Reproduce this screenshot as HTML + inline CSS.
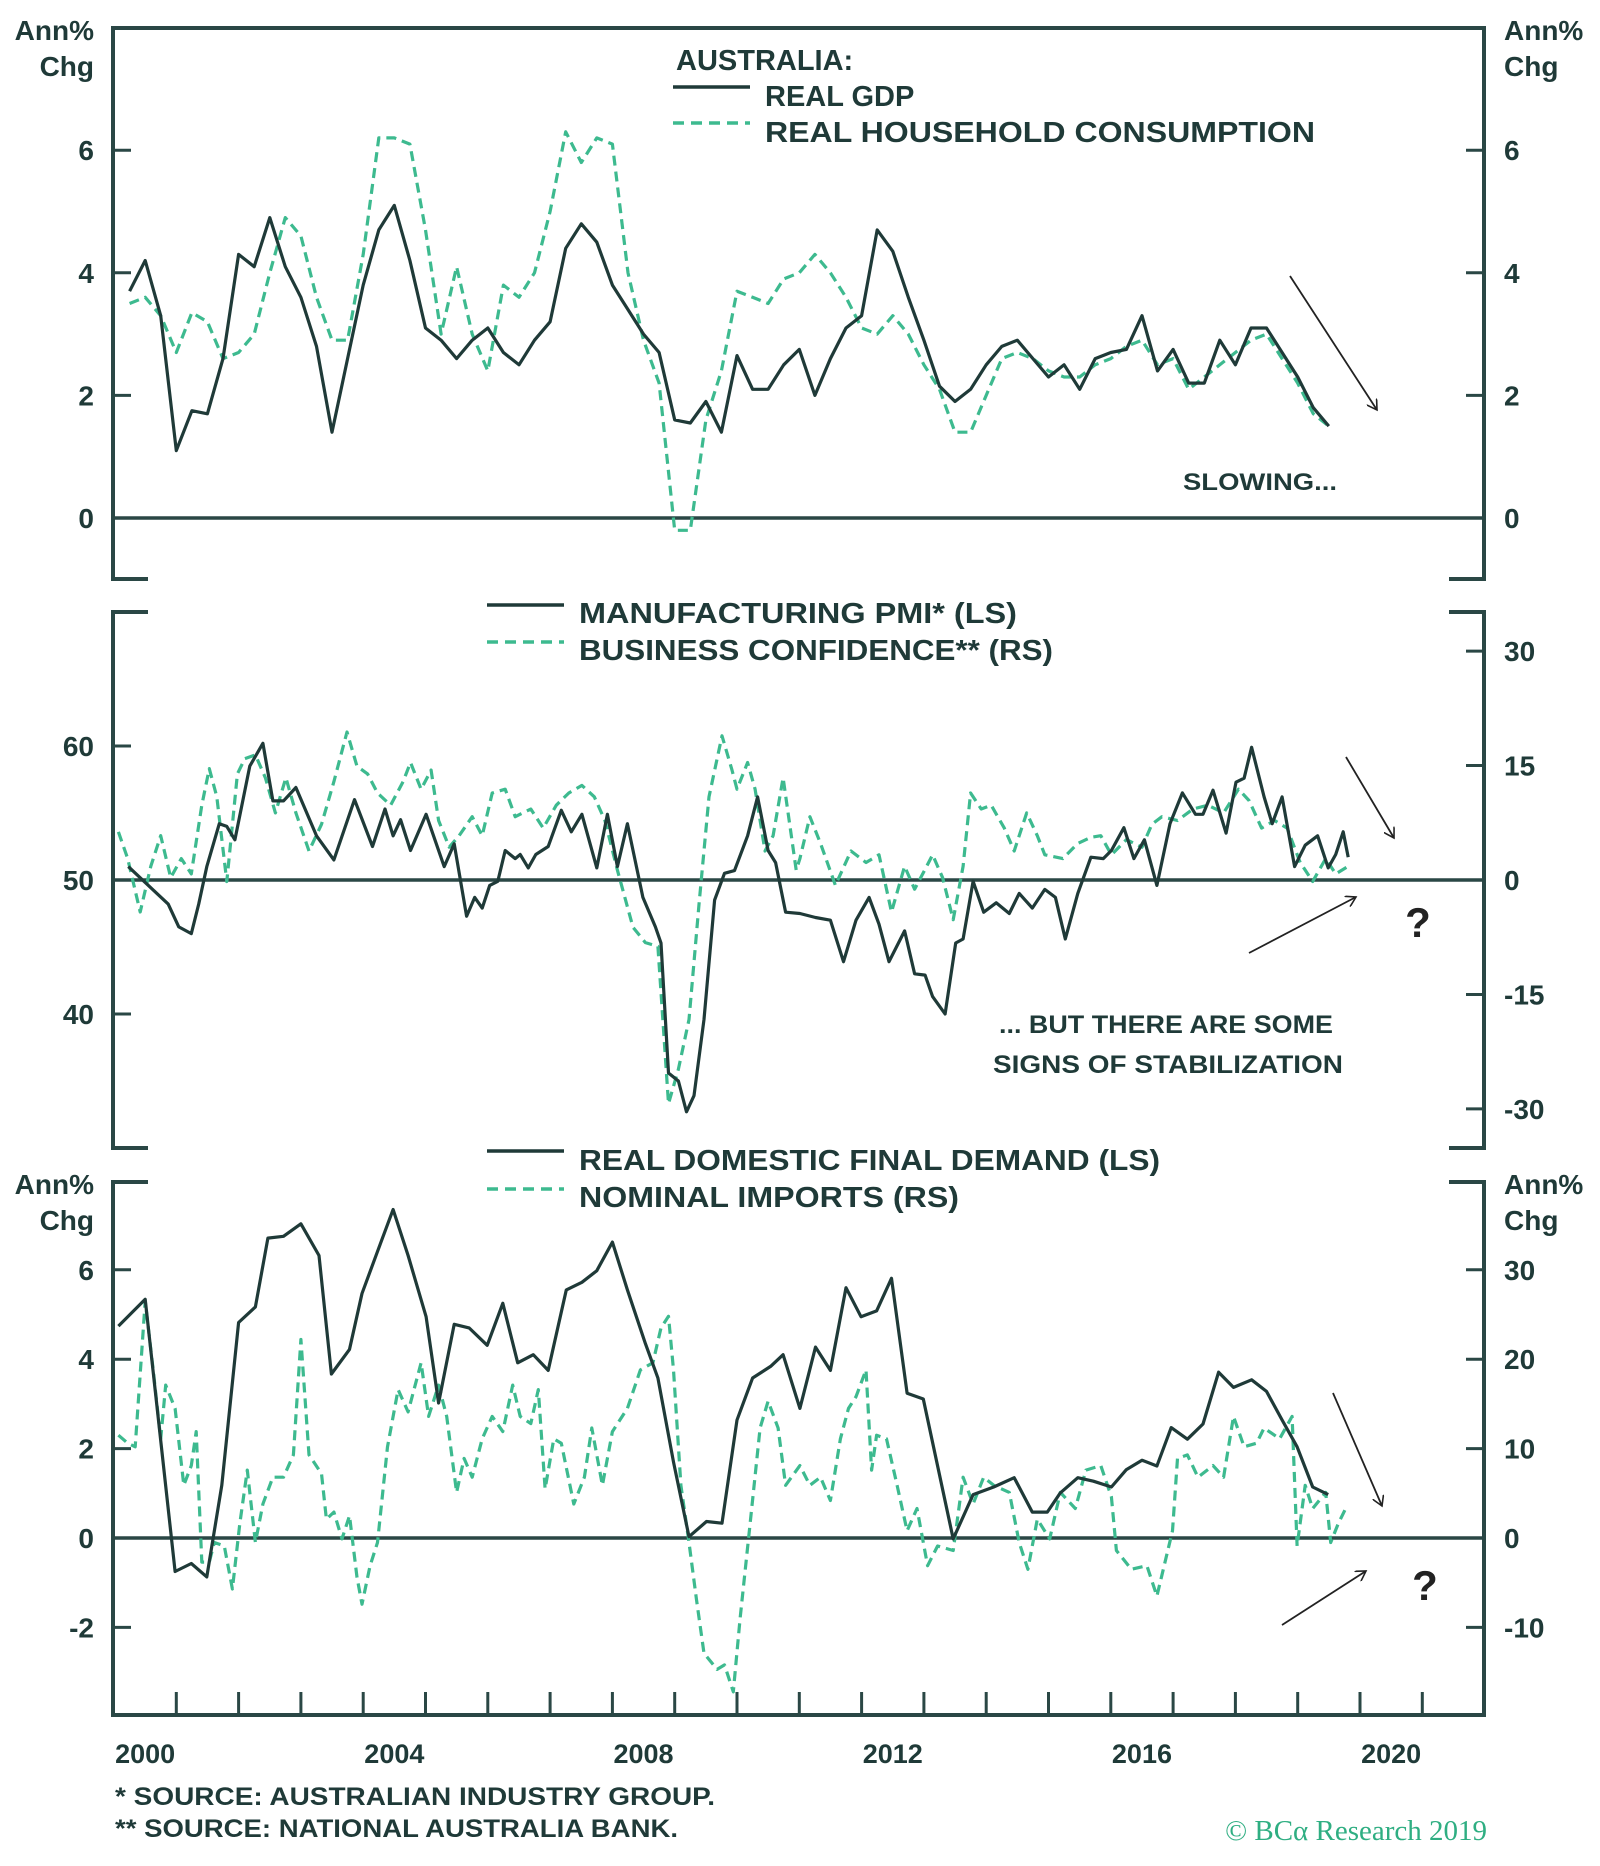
<!DOCTYPE html>
<html><head><meta charset="utf-8"><style>
html,body{margin:0;padding:0;background:#fff;}
svg{display:block;font-family:"Liberation Sans",sans-serif;}
.t{fill:#1f3a38;font-weight:bold;}
</style></head><body>
<svg id="chart" width="1600" height="1866" viewBox="0 0 1600 1866" xmlns="http://www.w3.org/2000/svg">
<g id="frame" stroke="#2a4745" stroke-width="4" fill="none">
 <line x1="113" y1="28" x2="1484" y2="28"/>
 <line x1="113" y1="26" x2="113" y2="581"/><line x1="1484" y1="26" x2="1484" y2="581"/>
 <line x1="113" y1="579" x2="148" y2="579"/><line x1="1449" y1="579" x2="1484" y2="579"/>
 <line x1="113" y1="610" x2="113" y2="1150"/><line x1="1484" y1="610" x2="1484" y2="1150"/>
 <line x1="113" y1="612" x2="148" y2="612"/><line x1="1449" y1="612" x2="1484" y2="612"/>
 <line x1="113" y1="1148" x2="148" y2="1148"/><line x1="1449" y1="1148" x2="1484" y2="1148"/>
 <line x1="113" y1="1180" x2="113" y2="1717"/><line x1="1484" y1="1180" x2="1484" y2="1717"/>
 <line x1="113" y1="1182" x2="148" y2="1182"/><line x1="1449" y1="1182" x2="1484" y2="1182"/>
 <line x1="111" y1="1715" x2="1486" y2="1715"/>
</g>
<g id="ticks" stroke="#2a4745" stroke-width="3"></g>
<g id="labels"></g>
<g id="series"></g>
<g id="legend">
 <text class="t" x="676" y="70" font-size="29">AUSTRALIA:</text>
 <line x1="673" y1="87" x2="750" y2="87" stroke="#1f3a38" stroke-width="3.5"/>
 <text class="t" x="765" y="106" font-size="29">REAL GDP</text>
 <line x1="673" y1="123" x2="750" y2="123" stroke="#3dba8f" stroke-width="3.5" stroke-dasharray="11,7"/>
 <text class="t" x="765" y="142" font-size="29" textLength="550" lengthAdjust="spacingAndGlyphs">REAL HOUSEHOLD CONSUMPTION</text>
 <line x1="487" y1="605" x2="564" y2="605" stroke="#1f3a38" stroke-width="3.5"/>
 <text class="t" x="579" y="623" font-size="29" textLength="438" lengthAdjust="spacingAndGlyphs">MANUFACTURING PMI* (LS)</text>
 <line x1="487" y1="642" x2="564" y2="642" stroke="#3dba8f" stroke-width="3.5" stroke-dasharray="11,7"/>
 <text class="t" x="579" y="660" font-size="29" textLength="474" lengthAdjust="spacingAndGlyphs">BUSINESS CONFIDENCE** (RS)</text>
 <line x1="487" y1="1151" x2="564" y2="1151" stroke="#1f3a38" stroke-width="3.5"/>
 <text class="t" x="579" y="1170" font-size="29" textLength="581" lengthAdjust="spacingAndGlyphs">REAL DOMESTIC FINAL DEMAND (LS)</text>
 <line x1="487" y1="1189" x2="564" y2="1189" stroke="#3dba8f" stroke-width="3.5" stroke-dasharray="11,7"/>
 <text class="t" x="579" y="1207" font-size="29" textLength="380" lengthAdjust="spacingAndGlyphs">NOMINAL IMPORTS (RS)</text>
</g>
<defs><marker id="ah" markerWidth="12" markerHeight="12" refX="10" refY="6" orient="auto" markerUnits="userSpaceOnUse"><path d="M0,0 L10,6 L0,12" fill="none" stroke="#222" stroke-width="1.6"/></marker></defs>
<g id="annotations" stroke="#222" stroke-width="1.8" fill="none">
 <line x1="1290" y1="276" x2="1377" y2="410" marker-end="url(#ah)"/>
 <line x1="1346" y1="757" x2="1394" y2="838" marker-end="url(#ah)"/>
 <line x1="1249" y1="953" x2="1356" y2="897" marker-end="url(#ah)"/>
 <line x1="1333" y1="1393" x2="1382" y2="1506" marker-end="url(#ah)"/>
 <line x1="1282" y1="1625" x2="1366" y2="1571" marker-end="url(#ah)"/>
</g>
<text class="t" x="1183" y="490" font-size="24" textLength="154" lengthAdjust="spacingAndGlyphs">SLOWING...</text>
<text class="t" x="999" y="1033" font-size="25" textLength="334" lengthAdjust="spacingAndGlyphs">... BUT THERE ARE SOME</text>
<text class="t" x="993" y="1073" font-size="25" textLength="350" lengthAdjust="spacingAndGlyphs">SIGNS OF STABILIZATION</text>
<text x="1418" y="937" font-size="42" font-weight="bold" fill="#222" text-anchor="middle">?</text>
<text x="1425" y="1600" font-size="42" font-weight="bold" fill="#222" text-anchor="middle">?</text>
<text class="t" x="115" y="1805" font-size="25" textLength="600" lengthAdjust="spacingAndGlyphs">* SOURCE: AUSTRALIAN INDUSTRY GROUP.</text>
<text class="t" x="115" y="1837" font-size="25" textLength="563" lengthAdjust="spacingAndGlyphs">** SOURCE: NATIONAL AUSTRALIA BANK.</text>
<text x="1487" y="1840" font-size="29" fill="#2fae82" text-anchor="end" font-family="Liberation Serif, serif">© BCα Research 2019</text>
</svg>
<script>
// ---- data ----
const yearTicks = [2000, 2004, 2008, 2012, 2016, 2020];
const p1Ticks = [0, 2, 4, 6];
const p2LeftTicks = [40, 50, 60];
const p2RightTicks = [-30, -15, 0, 15, 30];
const p3LeftTicks = [-2, 0, 2, 4, 6];
const p3RightTicks = [-10, 0, 10, 20, 30];
const quarterStart = 2000.25;
const gdp = [3.7,4.2,3.3,1.1,1.75,1.7,2.6,4.3,4.1,4.9,4.1,3.6,2.8,1.4,2.6,3.8,4.7,5.1,4.2,3.1,2.9,2.6,2.9,3.1,2.7,2.5,2.9,3.2,4.4,4.8,4.5,3.8,3.4,3.0,2.7,1.6,1.55,1.9,1.4,2.65,2.1,2.1,2.5,2.75,2.0,2.6,3.1,3.3,4.7,4.35,3.6,2.9,2.15,1.9,2.1,2.5,2.8,2.9,2.6,2.3,2.5,2.1,2.6,2.7,2.75,3.3,2.4,2.75,2.2,2.2,2.9,2.5,3.1,3.1,2.7,2.3,1.8,1.5];
const consumption = [3.5,3.6,3.3,2.7,3.35,3.2,2.6,2.7,3.0,4.0,4.9,4.6,3.6,2.9,2.9,4.3,6.2,6.2,6.1,4.7,3.0,4.1,3.0,2.4,3.8,3.6,4.0,5.0,6.3,5.8,6.2,6.1,4.0,2.9,2.2,-0.2,-0.2,1.6,2.4,3.7,3.6,3.5,3.9,4.0,4.3,4.0,3.6,3.1,3.0,3.3,3.0,2.5,2.1,1.4,1.4,2.0,2.6,2.7,2.6,2.4,2.3,2.3,2.5,2.6,2.8,2.9,2.5,2.6,2.1,2.3,2.5,2.7,2.9,3.0,2.6,2.2,1.7,1.5];
const pmiDates = [2000.23,2000.87,2001.04,2001.24,2001.36,2001.49,2001.69,2001.81,2001.94,2002.18,2002.39,2002.55,2002.72,2002.92,2003.25,2003.53,2003.86,2004.15,2004.35,2004.48,2004.60,2004.76,2005.01,2005.30,2005.46,2005.66,2005.79,2005.91,2006.03,2006.16,2006.28,2006.44,2006.52,2006.65,2006.77,2006.97,2007.18,2007.34,2007.51,2007.75,2007.92,2008.08,2008.24,2008.49,2008.69,2008.78,2008.90,2009.06,2009.19,2009.31,2009.47,2009.64,2009.80,2009.96,2010.17,2010.33,2010.50,2010.62,2010.78,2011.01,2011.26,2011.50,2011.71,2011.91,2012.12,2012.28,2012.44,2012.69,2012.85,2013.02,2013.14,2013.34,2013.51,2013.63,2013.79,2013.96,2014.16,2014.37,2014.53,2014.74,2014.94,2015.11,2015.27,2015.47,2015.68,2015.88,2016.01,2016.21,2016.37,2016.54,2016.74,2016.95,2017.15,2017.36,2017.48,2017.64,2017.85,2018.01,2018.14,2018.26,2018.46,2018.59,2018.75,2018.95,2019.12,2019.32,2019.49,2019.61,2019.73,2019.81];
const pmi = [51,48.2,46.5,46,48.2,51,54.2,54,53,58.5,60.2,55.9,55.9,56.9,53.3,51.5,56,52.5,55.3,53.3,54.5,52.2,54.9,51,52.7,47.3,48.7,47.9,49.6,49.9,52.2,51.6,51.9,50.9,51.9,52.5,55.2,53.6,54.9,50.9,54.9,51,54.2,48.7,46.5,45.3,35.6,35,32.7,33.9,39.6,48.5,50.5,50.7,53.3,56.2,52.2,51.3,47.6,47.5,47.2,47,43.9,47,48.7,46.7,43.9,46.2,43,42.9,41.3,40,45.3,45.6,49.9,47.6,48.3,47.5,49,47.9,49.3,48.7,45.6,49,51.7,51.6,52.2,53.9,51.6,53,49.6,54.2,56.5,54.9,54.9,56.7,53.5,57.3,57.6,59.9,56.2,54.2,56.2,51,52.6,53.3,50.9,51.9,53.6,51.7];
const confDates = [2000.07,2000.22,2000.42,2000.59,2000.75,2000.91,2001.08,2001.24,2001.41,2001.53,2001.65,2001.81,2001.98,2002.10,2002.27,2002.43,2002.59,2002.76,2002.92,2003.13,2003.33,2003.53,2003.74,2003.90,2004.07,2004.23,2004.44,2004.64,2004.76,2004.93,2005.09,2005.21,2005.38,2005.54,2005.75,2005.91,2006.07,2006.28,2006.44,2006.69,2006.89,2007.10,2007.30,2007.51,2007.71,2007.88,2008.08,2008.33,2008.53,2008.73,2008.90,2009.06,2009.23,2009.39,2009.55,2009.76,2009.92,2010.00,2010.17,2010.29,2010.45,2010.58,2010.74,2010.95,2011.01,2011.17,2011.34,2011.58,2011.83,2012.07,2012.28,2012.48,2012.69,2012.85,2012.98,2013.14,2013.30,2013.47,2013.63,2013.75,2013.92,2014.08,2014.29,2014.45,2014.65,2014.82,2014.94,2015.23,2015.47,2015.68,2015.84,2016.01,2016.25,2016.50,2016.66,2016.82,2017.07,2017.32,2017.56,2017.81,2018.05,2018.22,2018.42,2018.63,2018.83,2019.04,2019.24,2019.45,2019.61,2019.81];
const confidence = [6.3,2.8,-4.2,1.8,5.8,0.3,2.8,0.8,9.8,14.6,10.9,-0.2,13.9,15.9,16.4,13.4,8.8,13.4,8.8,3.8,7.3,12.9,19.4,14.9,13.9,11.4,9.8,12.9,15.4,11.9,14.4,7.8,4.3,5.8,8.3,5.8,11.4,11.9,8.3,9.3,6.8,9.8,11.4,12.4,10.9,7.8,1.3,-6.2,-8.2,-8.7,-29.3,-24.8,-18.3,-3.2,10.9,18.9,14.4,11.9,15.4,11.9,3.8,5.8,13.4,1.3,2.8,8.3,4.8,-0.7,3.8,2.3,3.3,-4.2,1.8,-1.2,0.8,3.3,0.3,-5.2,1.8,11.4,9.3,9.8,6.8,3.8,8.8,5.8,3.3,2.8,4.8,5.6,5.8,3.3,5.3,4.3,7.3,8.3,7.8,9.3,9.8,8.8,11.9,10.4,6.8,7.8,6.8,2.3,-0.2,2.8,0.8,1.8];
const demandDates = [2000.07,2000.50,2000.98,2001.24,2001.49,2001.73,2002.00,2002.27,2002.47,2002.72,2003.00,2003.29,2003.49,2003.78,2003.98,2004.23,2004.48,2004.72,2005.01,2005.21,2005.46,2005.70,2005.99,2006.24,2006.48,2006.73,2006.97,2007.26,2007.51,2007.75,2008.00,2008.24,2008.53,2008.73,2008.98,2009.23,2009.51,2009.76,2010.00,2010.25,2010.54,2010.74,2011.01,2011.26,2011.50,2011.75,2011.99,2012.24,2012.48,2012.73,2012.99,2013.47,2013.79,2014.12,2014.45,2014.74,2014.98,2015.19,2015.47,2015.72,2016.01,2016.25,2016.50,2016.74,2016.97,2017.23,2017.48,2017.73,2017.97,2018.26,2018.50,2018.75,2018.99,2019.24,2019.49];
const demand = [4.74,5.34,-0.75,-0.57,-0.87,1.18,4.82,5.17,6.71,6.75,7.03,6.32,3.67,4.22,5.47,6.41,7.35,6.32,4.95,3.02,4.78,4.70,4.31,5.25,3.92,4.10,3.75,5.55,5.72,5.98,6.62,5.55,4.35,3.58,1.70,0.03,0.37,0.33,2.64,3.58,3.84,4.10,2.9,4.27,3.75,5.60,4.95,5.08,5.81,3.24,3.11,-0.02,0.97,1.14,1.35,0.58,0.58,1.01,1.35,1.27,1.14,1.53,1.74,1.61,2.47,2.21,2.55,3.71,3.37,3.54,3.28,2.64,2.04,1.14,0.97];
const importDates = [2000.07,2000.22,2000.34,2000.50,2000.63,2000.75,2000.83,2000.98,2001.12,2001.24,2001.32,2001.41,2001.53,2001.61,2001.77,2001.90,2002.02,2002.14,2002.27,2002.39,2002.55,2002.72,2002.88,2003.00,2003.13,2003.33,2003.41,2003.53,2003.66,2003.78,2003.90,2003.98,2004.11,2004.23,2004.39,2004.56,2004.72,2004.93,2005.05,2005.21,2005.34,2005.50,2005.62,2005.75,2005.91,2006.07,2006.24,2006.40,2006.52,2006.69,2006.81,2006.92,2007.06,2007.18,2007.38,2007.55,2007.67,2007.84,2008.00,2008.24,2008.45,2008.65,2008.78,2008.90,2008.98,2009.10,2009.23,2009.35,2009.47,2009.68,2009.80,2009.94,2010.05,2010.21,2010.37,2010.50,2010.66,2010.78,2011.01,2011.17,2011.34,2011.50,2011.66,2011.79,2011.91,2012.07,2012.16,2012.24,2012.40,2012.57,2012.73,2012.89,2013.06,2013.22,2013.47,2013.63,2013.79,2013.96,2014.12,2014.37,2014.53,2014.67,2014.82,2015.02,2015.19,2015.43,2015.60,2015.84,2016.01,2016.09,2016.33,2016.58,2016.74,2016.99,2017.07,2017.23,2017.40,2017.64,2017.81,2017.97,2018.14,2018.34,2018.46,2018.71,2018.91,2018.99,2019.12,2019.24,2019.45,2019.53,2019.65,2019.77];
const imports = [11.5,10.6,10.2,26.5,18.8,11.1,17.1,14.5,5.9,8.1,11.9,-2.7,-2.7,-0.5,-0.9,-5.7,1.6,7.6,-0.5,3.8,6.8,6.8,9.3,22.2,9.3,7.2,2.1,2.9,-0.1,2.5,-4.4,-7.4,-3.1,-0.5,10.2,16.6,14.1,19.6,13.6,17.1,13.6,5.1,8.9,6.8,11.1,13.6,11.9,17.1,13.6,12.8,16.6,5.5,11.1,10.6,3.8,6.8,12.3,5.9,11.9,14.5,18.8,19.6,23.5,24.8,18.8,5.9,-0.5,-6.9,-12.9,-14.7,-14.2,-17.2,-9.0,1.6,12.3,15.3,12.3,5.9,8.1,5.9,6.8,4.2,11.1,14.5,15.8,18.8,7.6,11.5,11.1,5.9,0.8,3.3,-3.1,-0.9,-1.4,6.8,3.8,6.8,5.9,5.1,-0.5,-3.5,2.1,-0.1,5.1,3.3,7.6,8.1,4.6,-1.4,-3.5,-3.1,-6.5,0.8,8.9,9.3,6.8,8.1,6.8,13.6,10.2,10.6,12.3,11.1,13.6,-0.9,5.9,3.3,5.1,-0.5,1.6,3.3];

// ---- scales ----
const NS = 'http://www.w3.org/2000/svg';
const xT = t => 114 + 62.3 * (t - 2000);
const y1 = v => 518 - 61.3 * v;
const y2L = v => 880 - 13.4 * (v - 50);
const y2R = v => 880 - 7.63 * v;
const y3L = v => 1538 - 44.7 * v;
const y3R = v => 1538 - 8.94 * v;
const DARK = '#1f3a38', GREEN = '#3dba8f';
function mk(tag, parent, attrs) {
  const e = document.createElementNS(NS, tag);
  for (const k in attrs) e.setAttribute(k, attrs[k]);
  parent.appendChild(e); return e;
}
const ticksG = document.getElementById('ticks');
const labelsG = document.getElementById('labels');
const seriesG = document.getElementById('series');

function axisLabels(vals, yf, side, name) {
  vals.forEach(v => {
    const y = yf(v);
    const tk = mk('line', ticksG, side === 'L' ? {x1:113,x2:131,y1:y,y2:y} : {x1:1466,x2:1484,y1:y,y2:y});
    
    
    const tx = mk('text', labelsG, side === 'L' ? {x:94,y:y+10,'text-anchor':'end','font-size':28,class:'t'} : {x:1504,y:y+10,'font-size':28,class:'t'});
    tx.textContent = v;
    
    
  });
}
axisLabels(p1Ticks, y1, 'L', 'p1-left-axis');
axisLabels(p1Ticks, y1, 'R', 'p1-right-axis');
axisLabels(p2LeftTicks, y2L, 'L', 'p2-left-axis');
axisLabels(p2RightTicks, y2R, 'R', 'p2-right-axis');
axisLabels(p3LeftTicks, y3L, 'L', 'p3-left-axis');
axisLabels(p3RightTicks, y3R, 'R', 'p3-right-axis');

[[y1(0),'p1-zero-line'],[y2L(50),'p2-fifty-line'],[y3L(0),'p3-zero-line']].forEach(([y,n]) => {
  const l = mk('line', ticksG, {x1:113,x2:1484,y1:y,y2:y,'stroke-width':3.5});
  
  
});
for (let yr = 2001; yr <= 2021; yr++) {
  const l = mk('line', ticksG, {x1:xT(yr),x2:xT(yr),y1:1715,y2:1692});
  
  
}
yearTicks.forEach(yr => {
  const t = mk('text', labelsG, {x:xT(yr + 0.5),y:1763,'text-anchor':'middle','font-size':27,class:'t'});
  t.textContent = yr;
  
  
});
[[94,40,'end','Ann%'],[94,76,'end','Chg'],[1504,40,'start','Ann%'],[1504,76,'start','Chg'],
 [94,1194,'end','Ann%'],[94,1230,'end','Chg'],[1504,1194,'start','Ann%'],[1504,1230,'start','Chg']].forEach(([x,y,a,s]) => {
  const t = mk('text', labelsG, {x:x,y:y,'text-anchor':a,'font-size':28,class:'t'});
  t.textContent = s;
  
  
});

function line(dates, vals, yf, dashed, name) {
  const pts = vals.map((v, i) => xT(dates[i]).toFixed(1) + ',' + yf(v).toFixed(1)).join(' ');
  const p = mk('polyline', seriesG, {points:pts,fill:'none',stroke:dashed?GREEN:DARK,'stroke-width':3.2,'stroke-linejoin':'round'});
  if (dashed) p.setAttribute('stroke-dasharray', '10,6');
  
  
}
const qDates = arr => arr.map((_, i) => quarterStart + 0.25 * i);
line(qDates(consumption), consumption, y1, true, 'real-household-consumption-line');
line(qDates(gdp), gdp, y1, false, 'real-gdp-line');
line(confDates, confidence, y2R, true, 'business-confidence-line');
line(pmiDates, pmi, y2L, false, 'manufacturing-pmi-line');
line(importDates, imports, y3R, true, 'nominal-imports-line');
line(demandDates, demand, y3L, false, 'real-domestic-final-demand-line');
</script>
</body></html>
